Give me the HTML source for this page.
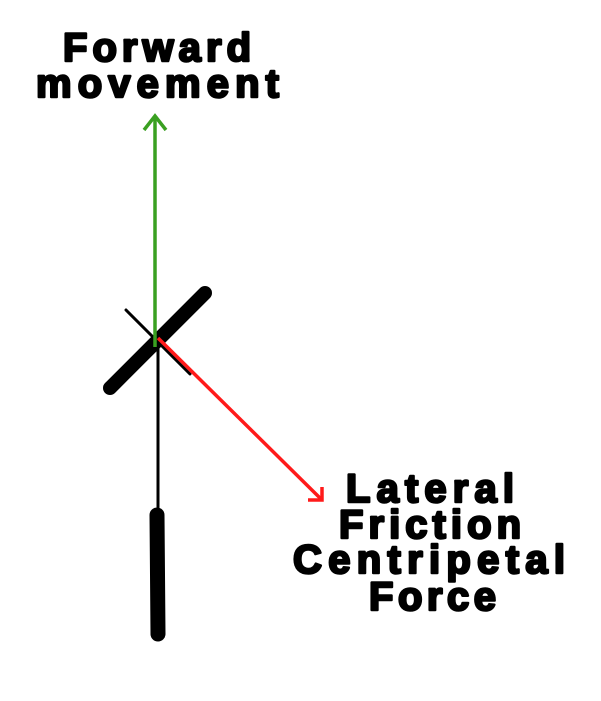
<!DOCTYPE html>
<html><head><meta charset="utf-8"><style>html,body{margin:0;padding:0;background:#fff}svg{display:block}</style></head>
<body>
<svg width="601" height="701" viewBox="0 0 601 701" xmlns="http://www.w3.org/2000/svg">
<g fill="none" stroke-linecap="round">
<line x1="158" y1="340" x2="158" y2="512" stroke="#000" stroke-width="3"/>
<line x1="157" y1="515" x2="158" y2="634" stroke="#000" stroke-width="15"/>
<line x1="126" y1="310" x2="190" y2="374" stroke="#000" stroke-width="3"/>
<line x1="110" y1="388" x2="205" y2="293" stroke="#000" stroke-width="14"/>
<line x1="155" y1="347" x2="155" y2="116" stroke="#3aa021" stroke-width="3.5" stroke-linecap="butt"/>
<polyline points="144,130 155,116 166,130" stroke="#3aa021" stroke-width="3.5" stroke-linecap="butt"/>
<line x1="158" y1="338" x2="321" y2="499" stroke="#ff1a1a" stroke-width="3.5" stroke-linecap="butt"/>
<polyline points="322,487 322,500 308,500" stroke="#ff1a1a" stroke-width="3.5" stroke-linecap="butt"/>
</g>
<g font-family="Liberation Sans, sans-serif" font-weight="bold" font-size="40" fill="#000" stroke="#000" stroke-width="2.5" stroke-linejoin="round">
<text x="63" y="61" textLength="188" lengthAdjust="spacing">Forward</text>
<text x="36" y="97" textLength="243" lengthAdjust="spacing">movement</text>
<text x="346" y="502" textLength="168" lengthAdjust="spacing">Lateral</text>
<text x="339" y="538" textLength="182" lengthAdjust="spacing">Friction</text>
<text x="293" y="573" textLength="272" lengthAdjust="spacing">Centripetal</text>
<text x="369" y="610" textLength="127" lengthAdjust="spacing">Force</text>
</g>
</svg>
</body></html>
